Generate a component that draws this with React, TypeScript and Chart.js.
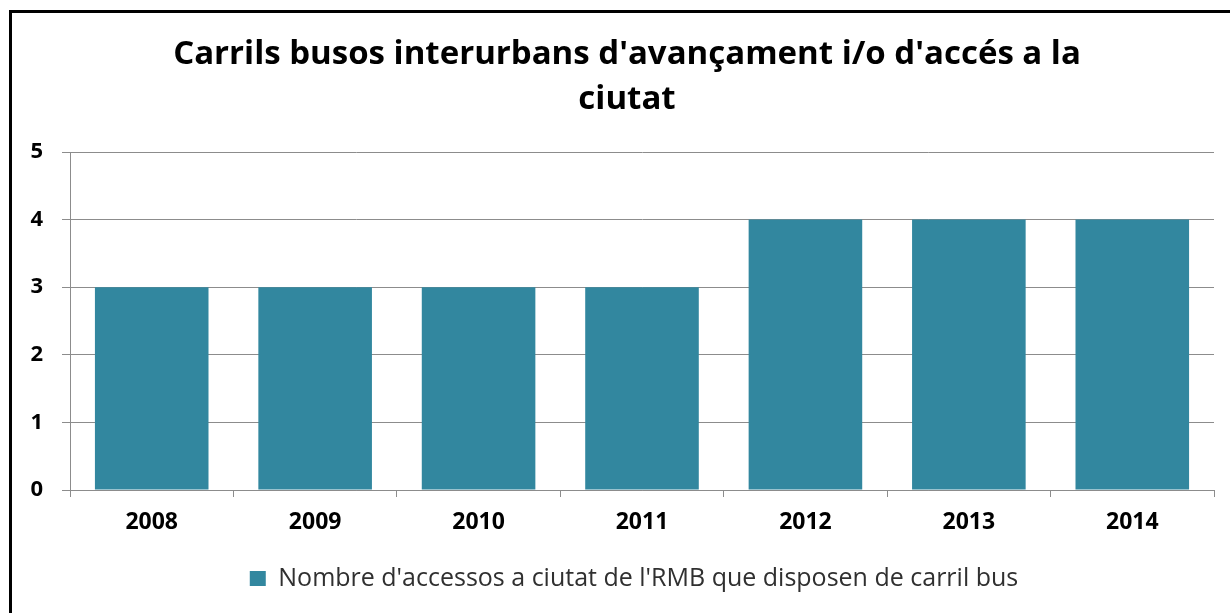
import React, { useEffect, useRef } from "react";
import { Chart, registerables } from "chart.js";

Chart.register(...registerables);

const titleLines = ["Carrils busos interurbans d'avançament i/o d'accés a la", "ciutat"];
const categories = ["2008", "2009", "2010", "2011", "2012", "2013", "2014"];
const seriesName = "Nombre d'accessos a ciutat de l'RMB que disposen de carril bus";
const seriesValues = [3, 3, 3, 3, 4, 4, 4];
const yMin = 0;
const yMax = 5;
const yStep = 1;

const recenterPlugin = {
  id: "recenter",
  afterLayout(chart: any) {
    if (chart.titleBlock) {
      chart.titleBlock.left = 40;
      chart.titleBlock.right = 1214;
    }
    if (chart.legend) {
      chart.legend.left = 54;
      chart.legend.right = 1214;
    }
  },
};

export default function App() {
  const ref = useRef<HTMLCanvasElement | null>(null);

  useEffect(() => {
    document.body.style.overflow = "hidden";
    const canvas = ref.current;
    if (!canvas) return;
    const chart = new Chart(canvas, {
      type: "bar",
      data: {
        labels: categories,
        datasets: [
          {
            label: seriesName,
            data: seriesValues,
            backgroundColor: "#32879F",
            borderWidth: 0,
            barPercentage: 0.695,
            categoryPercentage: 1,
          },
        ],
      },
      plugins: [recenterPlugin],
      options: {
        animation: false,
        responsive: false,
        maintainAspectRatio: false,
        layout: { padding: { left: 0, right: 16, top: 0, bottom: 12 } },
        plugins: {
          title: {
            display: true,
            text: titleLines,
            color: "#000000",
            font: { family: "'Open Sans'", size: 33, weight: "bold", lineHeight: 1.364 },
            padding: { top: 32, bottom: 30 },
          },
          legend: {
            display: true,
            position: "bottom",
            labels: {
              color: "#303030",
              font: { family: "'Open Sans'", size: 25 },
              boxWidth: 16,
              boxHeight: 15,
              padding: 8,
            },
          },
          tooltip: { enabled: false },
        },
        scales: {
          x: {
            afterFit: (scale: any) => {
              scale.height = 68;
            },
            grid: {
              offset: true,
              drawOnChartArea: false,
              drawTicks: true,
              tickLength: 7,
              color: "#8C8C8C",
            },
            border: { display: true, color: "#8C8C8C" },
            ticks: {
              color: "#000000",
              font: { family: "'Open Sans'", size: 23, weight: "bold" },
              padding: 12,
            },
          },
          y: {
            min: yMin,
            max: yMax,
            afterFit: (scale: any) => {
              scale.width = 70;
            },
            grid: {
              drawTicks: true,
              tickLength: 8,
              color: "#8C8C8C",
            },
            border: { display: true, color: "#8C8C8C" },
            ticks: {
              stepSize: yStep,
              color: "#000000",
              font: { family: "'Open Sans'", size: 22, weight: "bold" },
              padding: 19,
            },
          },
        },
      },
    });
    return () => chart.destroy();
  }, []);

  return (
    <div>
      <canvas
        ref={ref}
        width={1230}
        height={613}
        style={{ position: "fixed", left: 0, top: 0, width: 1230, height: 613, background: "#fff" }}
      />
      <div
        style={{
          position: "fixed",
          left: 9,
          top: 10,
          width: 1260,
          height: 640,
          border: "3px solid #000",
          boxSizing: "border-box",
          pointerEvents: "none",
        }}
      />
    </div>
  );
}
